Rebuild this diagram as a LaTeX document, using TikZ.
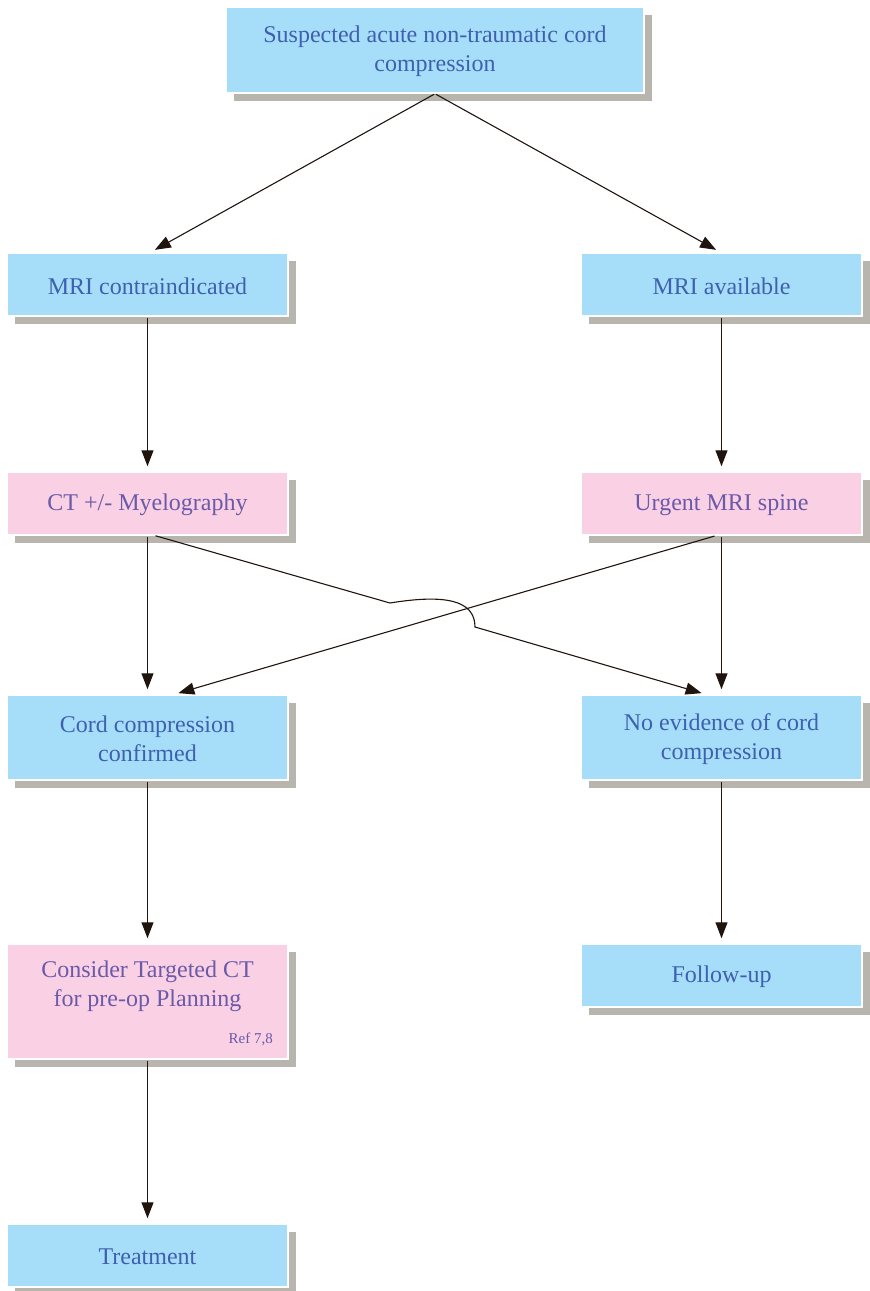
\documentclass[tikz,border=0pt]{standalone}
\usepackage{fontspec}
\setmainfont{Liberation Serif}
\usetikzlibrary{arrows.meta,shadows,calc}
\definecolor{boxblue}{HTML}{A6DEFA}
\definecolor{boxpink}{HTML}{FAD0E4}
\definecolor{txtblue}{HTML}{3F5FAF}
\definecolor{txtpurple}{HTML}{6A5AA8}
\definecolor{shadowgray}{HTML}{B8B4AE}
\definecolor{arrowcol}{HTML}{1F140E}
\tikzset{
  base/.style={rectangle, draw=white, line width=1.5pt, inner sep=0pt,
    drop shadow={shadow xshift=8pt, shadow yshift=-8pt, fill=shadowgray, opacity=1}},
  bluebox/.style={base, fill=boxblue},
  pinkbox/.style={base, fill=boxpink},
  tb/.style={inner sep=0pt, align=center, text=txtblue, font=\fontsize{24}{29}\selectfont},
  tp/.style={inner sep=0pt, align=center, text=txtpurple, font=\fontsize{24}{29}\selectfont},
  arr/.style={draw=arrowcol, line width=1.1pt, -{Triangle[length=16pt,width=12pt]}},
}
\begin{document}
\begin{tikzpicture}[x=1pt,y=-1pt]
\useasboundingbox (0,0) rectangle (870,1291);
\node[bluebox, minimum width=418pt, minimum height=86pt] (top) at (435,50) {};
\node[tb] (topt) at (435,51.5) {Suspected acute non-traumatic cord\\compression};
\node[bluebox, minimum width=281pt, minimum height=63pt] (mric) at (147.5,284.5) {};
\node[tb] (mrict) at (147.5,286) {MRI contraindicated};
\node[bluebox, minimum width=281pt, minimum height=63pt] (mria) at (721.5,284.5) {};
\node[tb] (mriat) at (721.5,286) {MRI available};
\node[pinkbox, minimum width=281pt, minimum height=63pt] (ct) at (147.5,503.5) {};
\node[tp] (ctt) at (147.5,505) {CT +/- Myelography};
\node[pinkbox, minimum width=281pt, minimum height=63pt] (umri) at (721.5,503.5) {};
\node[tp] (umrit) at (721.5,505) {Urgent MRI spine};
\node[bluebox, minimum width=281pt, minimum height=85pt] (cord) at (147.5,737.5) {};
\node[tb] (cordt) at (147.5,739) {Cord compression\\confirmed};
\node[bluebox, minimum width=281pt, minimum height=85pt] (noev) at (721.5,737.5) {};
\node[tb] (noevt) at (721.5,739) {No evidence of cord\\compression};
\node[pinkbox, minimum width=281pt, minimum height=115pt] (cons) at (147.5,1001.5) {};
\node[tp] (constext) at (147.5,986.5) {Consider Targeted CT\\for pre-op Planning};
\node[tp, font=\fontsize{15}{18}\selectfont, anchor=east] (ref) at (273,1039) {Ref 7,8};
\node[bluebox, minimum width=281pt, minimum height=63pt] (fup) at (721.5,975.5) {};
\node[tb] (fupt) at (721.5,977) {Follow-up};
\node[bluebox, minimum width=281pt, minimum height=63pt] (treat) at (147.5,1255.5) {};
\node[tb] (treatt) at (147.5,1257) {Treatment};

\draw[arr, shorten <=1pt, shorten >=5pt] (top.south) -- ([xshift=3pt]mric.north);
\draw[arr, shorten <=1pt, shorten >=5pt] (top.south) -- ([xshift=-1pt]mria.north);
\draw[arr, shorten <=1pt, shorten >=5pt] (mric.south) -- (ct.north);
\draw[arr, shorten <=1pt, shorten >=5pt] (mria.south) -- (umri.north);
\draw[arr, shorten <=1pt, shorten >=5pt] (ct.south) -- (cord.north);
\draw[arr, shorten <=1pt, shorten >=5pt] (umri.south) -- (noev.north);
\draw[arr, shorten <=1pt, shorten >=5pt] (cord.south) -- (cons.north);
\draw[arr, shorten <=1pt, shorten >=5pt] (noev.south) -- (fup.north);
\draw[arr, shorten <=1pt, shorten >=5pt] (cons.south) -- (treat.north);
\draw[arr, shorten <=1pt, shorten >=4pt] ([xshift=-6pt]umri.south) -- ([xshift=27pt]cord.north);
\coordinate (hopA) at (390,603);
\coordinate (hopB) at (475,627);
\draw[arr, shorten >=4pt] ([xshift=8pt]ct.south) -- (hopA) .. controls (445,594) and (475,600) .. (hopB) -- ([xshift=-16pt]noev.north);
\end{tikzpicture}
\end{document}
